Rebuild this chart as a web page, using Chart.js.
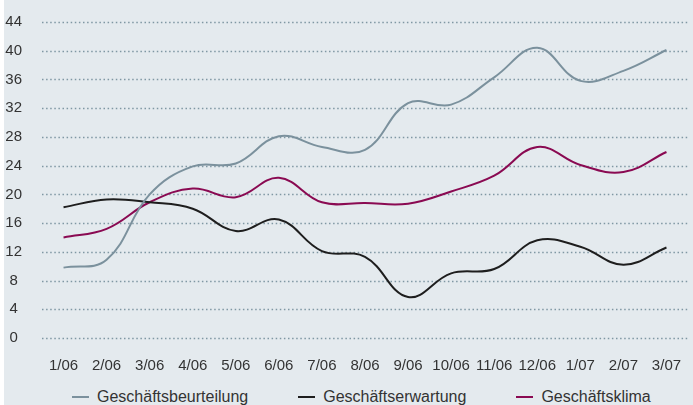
<!DOCTYPE html>
<html lang="de">
<head>
    <meta charset="utf-8">
    <title>Geschäftsklima</title>
    <script src="https://cdn.jsdelivr.net/npm/chart.js"></script>
    <style>
        body {
            margin: 0;
            padding: 0;
            background: #fff;
            overflow: hidden;
            font-family: 'Liberation Sans', Arial, sans-serif;
        }
        .panel {
            position: absolute;
            left: 4px;
            top: 0;
            width: 689px;
            height: 405px;
            background: #e4eaee;
            overflow: hidden;
        }
        #klimaChart {
            position: absolute;
            left: 0;
            top: 0;
        }
        .legend {
            position: absolute;
            left: 68px;
            top: 387px;
            display: flex;
            gap: 50px;
            font-size: 16px;
            line-height: 20px;
            color: #333;
            white-space: nowrap;
        }
        .legend span.item {
            display: flex;
            align-items: center;
        }
        .legend span.swatch {
            display: inline-block;
            width: 17px;
            height: 2px;
            margin-right: 8px;
        }
    </style>
</head>
<body>
    <div class="panel">
        <canvas id="klimaChart" width="689" height="375"></canvas>
        <div class="legend" id="legend"></div>
    </div>

    <script>
        // values
        const months = ['1/06', '2/06', '3/06', '4/06', '5/06', '6/06', '7/06', '8/06',
            '9/06', '10/06', '11/06', '12/06', '1/07', '2/07', '3/07'];
        const beurteilung = [9.8, 10.9, 20.0, 23.9, 24.3, 28.1, 26.6, 26.2, 32.7, 32.5, 36.3, 40.4, 35.8, 37.2, 40.1];
        const erwartung = [18.2, 19.3, 18.9, 18.0, 14.9, 16.5, 12.1, 11.3, 5.7, 9.0, 9.6, 13.6, 12.7, 10.2, 12.6];
        const klima = [14.0, 15.2, 18.9, 20.8, 19.6, 22.3, 18.9, 18.8, 18.7, 20.4, 22.6, 26.6, 24.1, 23.1, 25.9];
        const seriesNames = ['Geschäftsbeurteilung', 'Geschäftserwartung', 'Geschäftsklima'];
        const seriesColors = ['#7b919d', '#1e1e1e', '#8a0a52'];
        const yTicks = { min: 0, max: 44, step: 4 };

        const seriesData = [beurteilung, erwartung, klima];

        // dotted horizontal grid, placed with the y scale's own tick positions
        const dottedGrid = {
            id: 'dottedGrid',
            beforeDatasetsDraw(chart) {
                const { ctx, chartArea } = chart;
                const y = chart.scales.y;
                ctx.save();
                ctx.strokeStyle = '#7f97a3';
                ctx.lineWidth = 1.5;
                ctx.setLineDash([1.5, 2.6]);
                y.ticks.forEach(t => {
                    const py = Math.round(y.getPixelForValue(t.value)) + 0.5;
                    ctx.beginPath();
                    ctx.moveTo(chartArea.left, py);
                    ctx.lineTo(chartArea.right, py);
                    ctx.stroke();
                });
                ctx.restore();
            }
        };

        const ctx = document.getElementById('klimaChart').getContext('2d');
        new Chart(ctx, {
            type: 'line',
            data: {
                labels: months,
                datasets: seriesData.map((values, i) => ({
                    label: seriesNames[i],
                    data: values,
                    borderColor: seriesColors[i],
                    borderWidth: 2,
                    pointRadius: 0,
                    tension: 0.4,
                    fill: false
                }))
            },
            options: {
                responsive: false,
                animation: false,
                layout: {
                    padding: { top: 22, right: 5, bottom: 0, left: 0 }
                },
                plugins: {
                    legend: { display: false },
                    tooltip: { enabled: false }
                },
                scales: {
                    x: {
                        offset: true,
                        grid: { display: false },
                        border: { display: false },
                        ticks: {
                            color: '#333',
                            font: { family: 'Liberation Sans', size: 15 },
                            padding: 11,
                            maxRotation: 0,
                            autoSkip: false
                        },
                        afterFit: scale => { scale.height = 37; }
                    },
                    y: {
                        min: yTicks.min,
                        max: yTicks.max,
                        border: { display: false },
                        grid: { display: false },
                        ticks: {
                            stepSize: yTicks.step,
                            color: '#333',
                            font: { family: 'Liberation Sans', size: 15 },
                            padding: 12,
                            crossAlign: 'center'
                        },
                        afterFit: scale => { scale.width = 38; }
                    }
                }
            },
            plugins: [dottedGrid]
        });

        // simple HTML legend built from the series names
        const legend = document.getElementById('legend');
        seriesNames.forEach((name, i) => {
            const item = document.createElement('span');
            item.className = 'item';
            const sw = document.createElement('span');
            sw.className = 'swatch';
            sw.style.background = seriesColors[i];
            item.appendChild(sw);
            item.appendChild(document.createTextNode(name));
            legend.appendChild(item);
        });
    </script>
</body>
</html>
